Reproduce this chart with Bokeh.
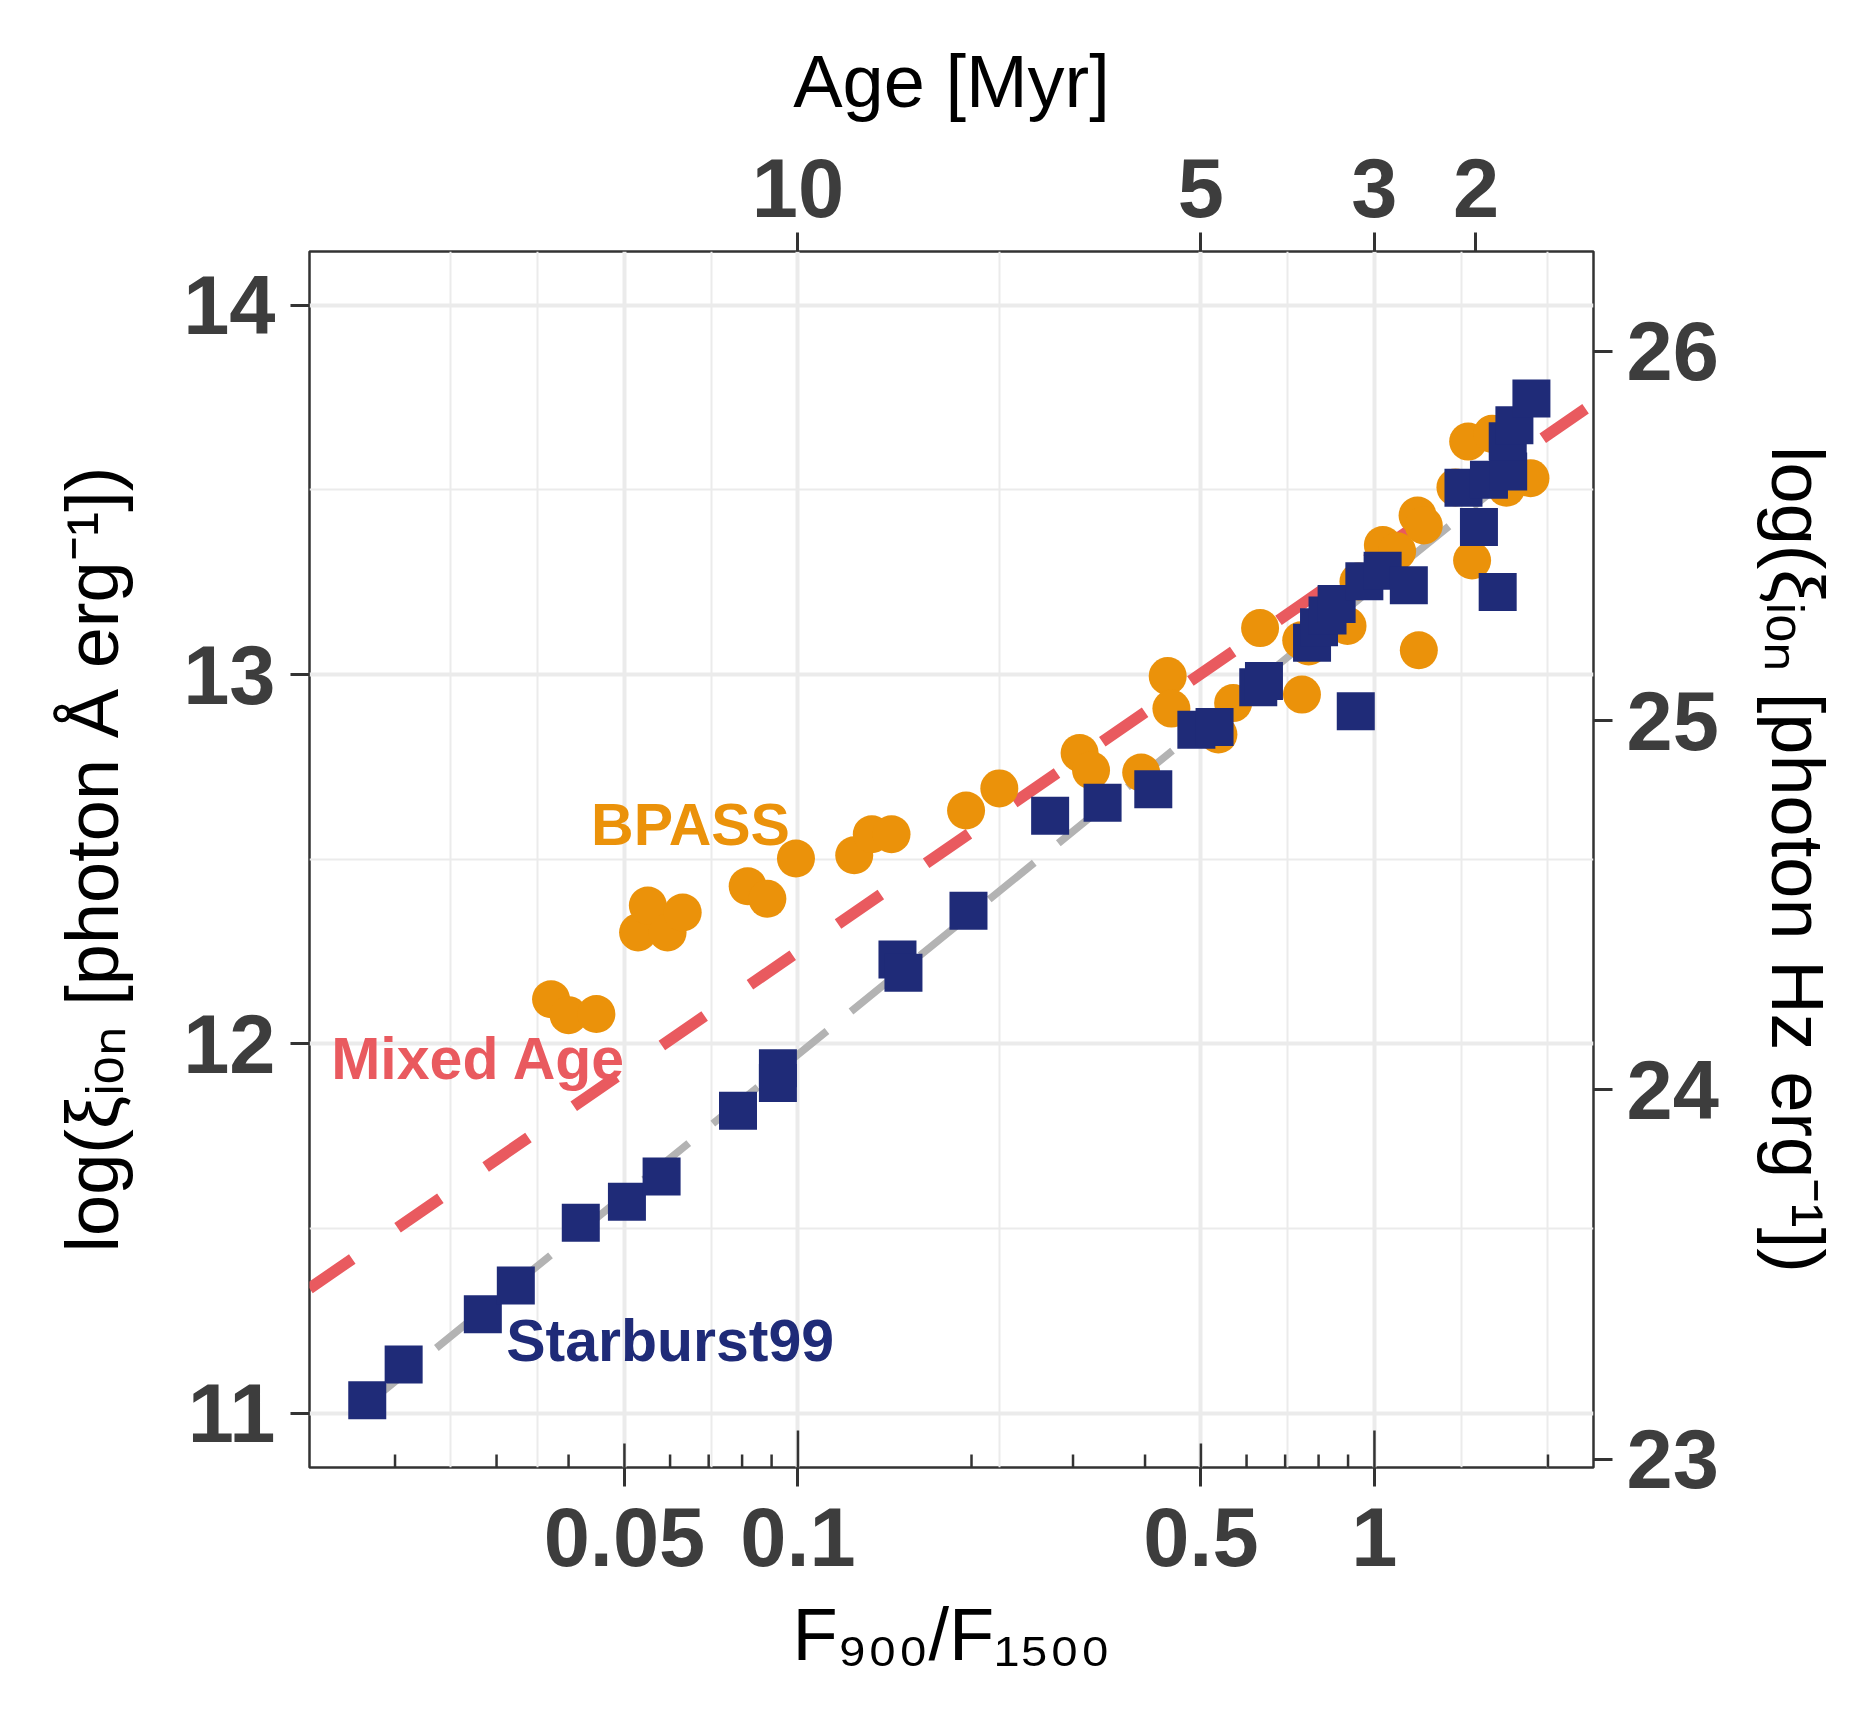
import math
from bokeh.plotting import figure
from bokeh.models import Range1d, LinearAxis, LogAxis, FixedTicker, Label, NumeralTickFormatter
from bokeh.embed import file_html
from bokeh.resources import INLINE

# ---------------- data ----------------
bpass_f900 = [0.0373, 0.0400, 0.0447, 0.0528, 0.0549, 0.0594, 0.0631, 0.0818, 0.0885, 0.0992,
              0.1252, 0.1343, 0.1453, 0.1957, 0.2235, 0.308, 0.3224, 0.3939, 0.4379, 0.4444,
              0.5362, 0.5687, 0.6333, 0.7486, 0.7689, 0.7464, 0.898, 0.9381, 1.0342, 1.0949,
              1.188, 1.2178, 1.194, 1.382, 1.477, 1.454, 1.600, 1.694, 1.865]
bpass_logxi = [12.121, 12.078, 12.081, 12.302, 12.375, 12.302, 12.356, 12.427, 12.393, 12.502,
               12.511, 12.568, 12.568, 12.632, 12.692, 12.788, 12.741, 12.735, 12.996, 12.908,
               12.838, 12.923, 13.126, 12.946, 13.076, 13.093, 13.132, 13.252, 13.351, 13.334,
               13.431, 13.404, 13.066, 13.507, 13.309, 13.631, 13.652, 13.506, 13.532]

sb99_f900 = [0.0179, 0.0207, 0.0284, 0.0324, 0.0420, 0.0505, 0.0580, 0.0787, 0.0923, 0.0923,
             0.1488, 0.1524, 0.1976, 0.2738, 0.3376, 0.4134, 0.491, 0.5280, 0.6287, 0.6432,
             0.9281, 0.7794, 0.8014, 0.8291, 0.8598, 0.9605, 1.0332, 1.1472, 1.427, 1.518,
             1.580, 1.706, 1.703, 1.749, 1.872, 1.636]
sb99_logxi = [11.035, 11.132, 11.268, 11.346, 11.516, 11.573, 11.641, 11.819, 11.934, 11.894,
              12.229, 12.193, 12.361, 12.618, 12.653, 12.690, 12.851, 12.858, 12.966, 12.983,
              12.901, 13.086, 13.128, 13.160, 13.191, 13.253, 13.281, 13.242, 13.506, 13.400,
              13.528, 13.550, 13.632, 13.675, 13.748, 13.224]

mixed_f900 = [0.01421, 2.3988]
mixed_logxi = [11.338, 13.735]
sb99fit_f900 = [0.0179, 1.872]
sb99fit_logxi = [11.025, 13.583]

x_ticks = [0.05, 0.1, 0.5, 1]
x_tick_labels = ["0.05", "0.1", "0.5", "1"]
x_minor_grid = [0.025, 0.03536, 0.07071, 0.2236, 0.7071, 1.4142, 2.0]
age_tick_pos = [0.1, 0.5, 1, 1.5]
age_tick_labels = ["10", "5", "3", "2"]
y_ticks = [11, 12, 13, 14]
y_minor_grid = [11.5, 12.5, 13.5]
hz_ticks = [23, 24, 25, 26]
HZ_OFFSET = 12.1246          # log10(c / (1500 A)^2)

logtick_short = [0.02, 0.03, 0.04, 0.06, 0.07, 0.08, 0.09, 0.2, 0.3, 0.4, 0.6, 0.7, 0.8, 0.9, 2]
logtick_mid = [0.05, 0.5]
logtick_long = [0.1, 1]

label_texts = ["BPASS", "Mixed Age", "Starburst99"]
label_x = [0.0651, 0.01550, 0.03118]
label_y = [12.594, 11.960, 11.196]

# ---------------- geometry / style ----------------
X_LO, X_HI = 0.014212, 2.3988
Y_LO, Y_HI = 10.8532, 14.1457
W, H = 1859, 1709
FL, FT, FW, FH = 309, 251, 1284, 1216

ORANGE = "#EB920A"
NAVY = "#1F2B78"
RED = "#E95A5F"
GRAY = "#B3B3B3"
TICKC = "#333333"
LABC = "#3D3D3D"
GRIDC = "#EBEBEB"
FONT = "Liberation Sans"


def px_to_dy(px):
    return px * (Y_HI - Y_LO) / FH


p = figure(width=W, height=H, x_axis_type="log",
           x_range=Range1d(X_LO, X_HI), y_range=Range1d(Y_LO, Y_HI),
           min_border_left=FL, min_border_right=W - FL - FW,
           min_border_top=FT, min_border_bottom=H - FT - FH,
           output_backend="svg", toolbar_location=None,
           background_fill_color="white", border_fill_color="white")
p.outline_line_color = TICKC
p.outline_line_width = 2.5
p.outline_line_alpha = 1.0

# grids
p.xgrid.ticker = FixedTicker(ticks=x_ticks, minor_ticks=x_minor_grid)
p.ygrid.ticker = FixedTicker(ticks=y_ticks, minor_ticks=y_minor_grid)
for g in (p.xgrid, p.ygrid):
    g.grid_line_color = GRIDC
    g.grid_line_width = 4
    g.minor_grid_line_color = GRIDC
    g.minor_grid_line_width = 2


def style_axis(ax, standoff):
    ax.axis_line_color = None
    ax.major_tick_line_color = TICKC
    ax.major_tick_line_width = 3
    ax.major_tick_out = 19
    ax.major_tick_in = 0
    ax.minor_tick_line_color = None
    ax.major_label_text_font = FONT
    ax.major_label_text_font_style = "bold"
    ax.major_label_text_font_size = "83px"
    ax.major_label_text_color = LABC
    ax.major_label_standoff = standoff
    ax.axis_label_text_font = FONT
    ax.axis_label_text_font_style = "normal"
    ax.axis_label_text_font_size = "74px"
    ax.axis_label_text_color = "black"


xa = p.xaxis[0]
xa.ticker = FixedTicker(ticks=x_ticks)
xa.formatter = NumeralTickFormatter(format="0.[00]")
xa.major_label_overrides = {t: s for t, s in zip(x_ticks, x_tick_labels)}
style_axis(xa, 21)
xa.axis_label = "F₉₀₀/F₁₅₀₀"
xa.axis_label_standoff = 24

ya = p.yaxis[0]
ya.ticker = FixedTicker(ticks=y_ticks)
style_axis(ya, 15)
ya.axis_label = "log(ξᵢₒₙ [photon Å erg⁻¹])"
ya.axis_label_standoff = 46

top = LogAxis(ticker=FixedTicker(ticks=age_tick_pos), formatter=NumeralTickFormatter(format="0.[0]"))
top.major_label_overrides = {t: s for t, s in zip(age_tick_pos, age_tick_labels)}
style_axis(top, 16)
top.axis_label = "Age [Myr]"
top.axis_label_standoff = 33
p.add_layout(top, "above")

p.extra_y_ranges = {"hz": Range1d(Y_LO + HZ_OFFSET, Y_HI + HZ_OFFSET)}
ra = LinearAxis(y_range_name="hz", ticker=FixedTicker(ticks=hz_ticks))
style_axis(ra, 14)
ra.axis_label = "log(ξᵢₒₙ [photon Hz erg⁻¹])"
ra.axis_label_standoff = 34
p.add_layout(ra, "right")

# log ticks along the bottom, inside
for ticks, L in ((logtick_short, 13), (logtick_mid, 24), (logtick_long, 37)):
    p.segment(x0=ticks, y0=[Y_LO] * len(ticks), x1=ticks, y1=[Y_LO + px_to_dy(L)] * len(ticks),
              line_color=TICKC, line_width=2.5)

# lines
p.line(mixed_f900, mixed_logxi, line_color=RED, line_width=11.5, line_dash="52 55")
p.line(sb99fit_f900, sb99fit_logxi, line_color=GRAY, line_width=7.5, line_dash="58 31")

# points
p.scatter(bpass_f900, bpass_logxi, marker="circle", size=38, fill_color=ORANGE, line_color=None)
p.scatter(sb99_f900, sb99_logxi, marker="square", size=38, fill_color=NAVY, line_color=None)

# in-plot labels
for txt, x, y, col, align in zip(label_texts, label_x, label_y,
                                 (ORANGE, RED, NAVY), ("center", "left", "left")):
    p.add_layout(Label(x=x, y=y, text=txt, text_color=col, text_font=FONT,
                       text_font_style="bold", text_font_size="59px",
                       text_align=align, text_baseline="alphabetic"))

open("out.html", "w").write(file_html(p, INLINE))
